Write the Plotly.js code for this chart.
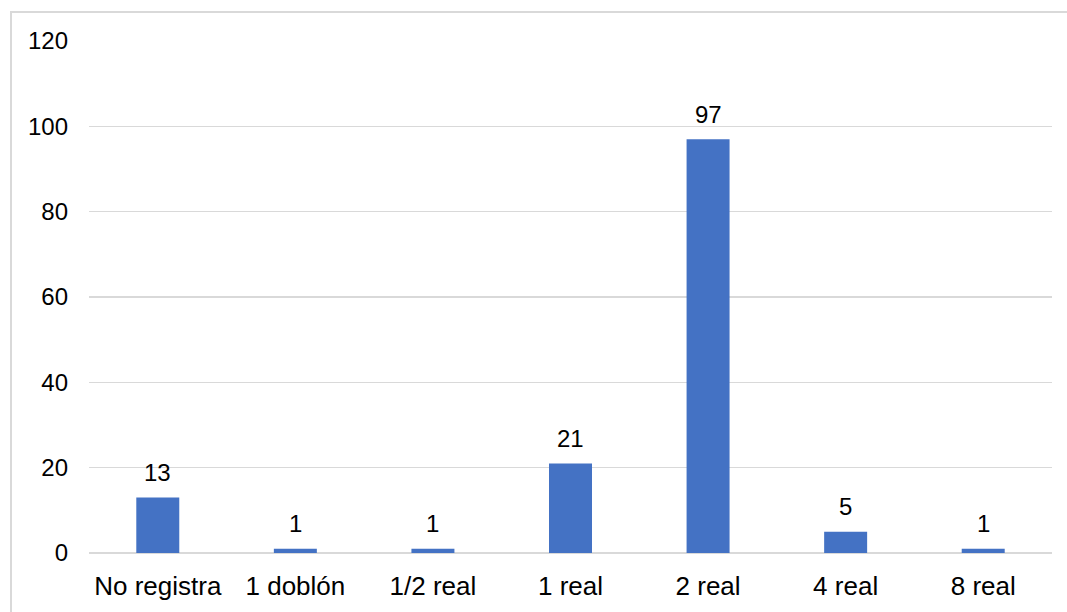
<!DOCTYPE html>
<html>
<head>
<meta charset="utf-8">
<script src="https://cdn.plot.ly/plotly-3.0.1.min.js"></script>
<style>
  html, body { margin: 0; padding: 0; background: #ffffff; overflow: hidden; }
  #frame {
    position: absolute; left: 10px; top: 11px; width: 1200px; height: 800px;
    border: 2px solid #d9d9d9; box-sizing: border-box;
  }
  #chart { position: absolute; left: 0; top: 0; width: 1067px; height: 612px; }
</style>
</head>
<body>
<div id="frame"></div>
<div id="chart"></div>
<script>
// Coin denominations and their counts
const categories = ["No registra", "1 doblón", "1/2 real", "1 real", "2 real", "4 real", "8 real"];
const counts = [13, 1, 1, 21, 97, 5, 1];
const yTicks = [0, 20, 40, 60, 80, 100, 120];

const barColor = "#4472C4";
const gridColor = "#d9d9d9";
const textColor = "#000000";
const fontFamily = "Liberation Sans, Arial, sans-serif";

const trace = {
  type: "bar",
  x: categories,
  y: counts,
  marker: { color: barColor, line: { width: 0 } },
  hoverinfo: "x+y"
};

// Value labels above each bar
const labels = categories.map((c, i) => ({
  x: c,
  y: counts[i],
  xref: "x",
  yref: "y",
  text: String(counts[i]),
  showarrow: false,
  yanchor: "middle",
  yshift: 25,
  font: { family: fontFamily, size: 24, color: textColor }
}));

const layout = {
  width: 1067,
  height: 612,
  margin: { l: 89, r: 15, t: 41, b: 59, pad: 0 },
  paper_bgcolor: "rgba(0,0,0,0)",
  plot_bgcolor: "rgba(0,0,0,0)",
  showlegend: false,
  bargap: 0.6875,
  xaxis: {
    type: "category",
    showgrid: false,
    zeroline: false,
    showline: false,
    ticks: "",
    ticklabelstandoff: 15,
    tickfont: { family: fontFamily, size: 26, color: textColor }
  },
  yaxis: {
    range: [0, 120],
    tickvals: yTicks,
    ticktext: yTicks.map(String),
    showgrid: true,
    gridcolor: gridColor,
    gridwidth: 1.5,
    zeroline: true,
    zerolinecolor: gridColor,
    zerolinewidth: 1.5,
    showline: false,
    ticks: "",
    ticklabelstandoff: 20,
    tickfont: { family: fontFamily, size: 24, color: textColor }
  },
  annotations: labels
};

Plotly.newPlot("chart", [trace], layout, { displayModeBar: false, staticPlot: true });
</script>
</body>
</html>
